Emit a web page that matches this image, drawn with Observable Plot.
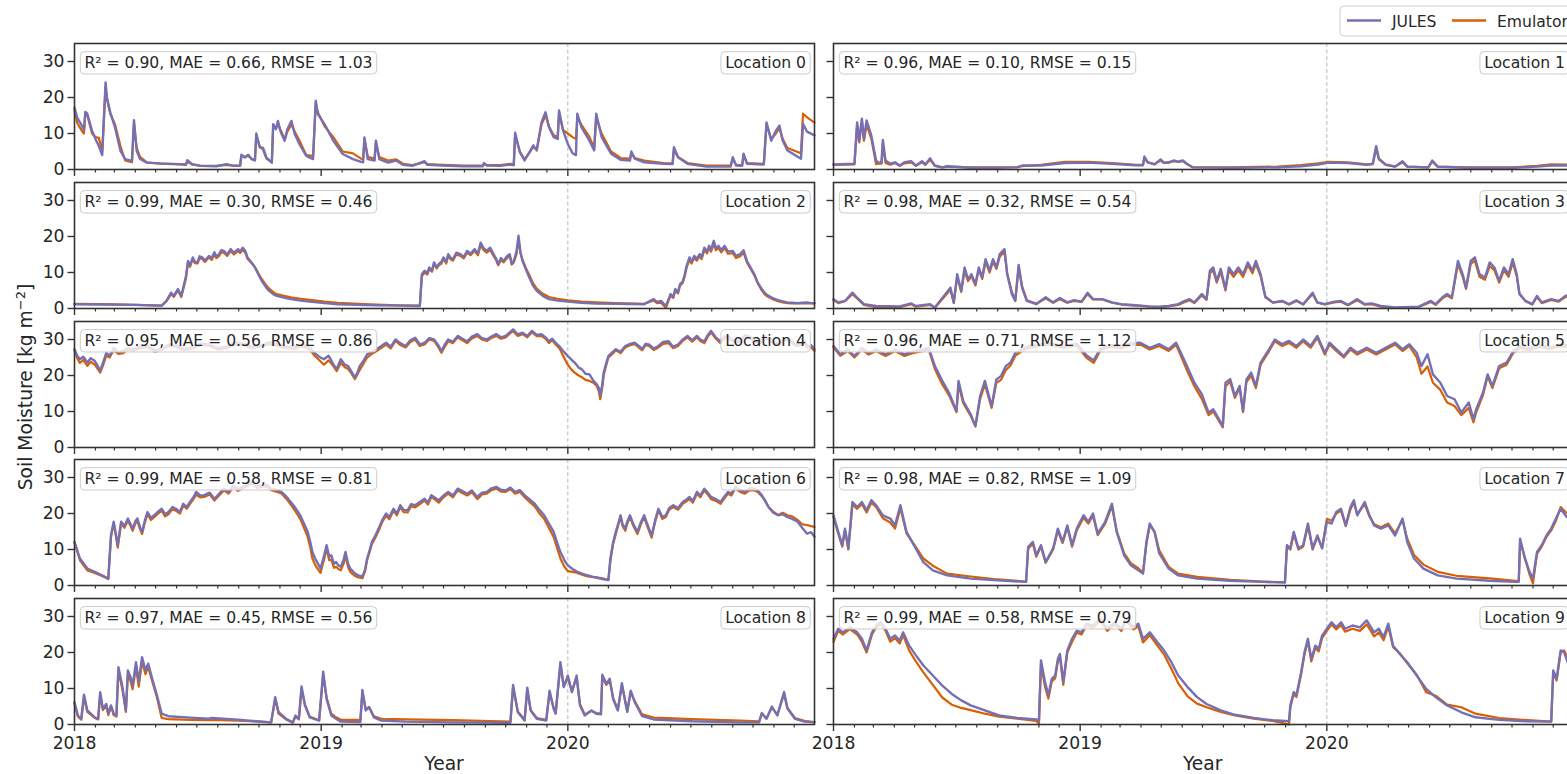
<!DOCTYPE html>
<html><head><meta charset="utf-8">
<script src="https://cdn.jsdelivr.net/npm/d3@7"></script>
<script src="https://cdn.jsdelivr.net/npm/@observablehq/plot@0.6"></script>
<style>
html,body{margin:0;padding:0;background:#fff;overflow:hidden;}
#wrap{position:relative;width:1567px;height:774px;overflow:hidden;font-family:"DejaVu Sans";background:#fff;}
.panel{position:absolute;}
</style></head><body><div id="wrap"></div>
<script>
// ---------- data (days since 2018-01-01) ----------
const locationNames = ["Location 0","Location 1","Location 2","Location 3","Location 4","Location 5","Location 6","Location 7","Location 8","Location 9"];
const r2   = [0.90,0.96,0.99,0.98,0.95,0.96,0.99,0.98,0.97,0.99];
const mae  = [0.66,0.10,0.30,0.32,0.56,0.71,0.58,0.82,0.45,0.58];
const rmse = [1.03,0.15,0.46,0.54,0.86,1.12,0.81,1.09,0.56,0.79];
const seriesNames = ["JULES","Emulator"];
const seriesColors = ["#7570b3","#d95f02"];
const yTicks = [0,10,20,30];
const years = [2018,2019,2020];

const day0 = [0,4,10,14,16,19,26,31,36,41, 46,48,53,60,68,75,85,88,92,97, 107,127,156,165,167,174,186,210,225,235, 245,247,252,257,262,267,269,274,279,284, 292,294,298,301,305,311,315,321,326,333, 343,353,357,360,370,383,397,412,424,427, 429,434,444,446,451,464,476,486,500,518, 522,545,575,604,606,610,630,645,650,652, 659,666,679,684,691,697,702,709,715,717, 723,730,737,742,744,750,762,769,772,780, 794,808,822,824,829,843,872,885,887,893, 907,935,971,974,979,988,990,995,1020,1024, 1031,1038,1043,1048,1055,1075,1078,1084,1095];
const jules0 = [17.2,14.4,12.5,11.0,16.0,15.5,10.7,8.5,6.5,4.0, 24.2,20.0,15.8,11.7,5.2,2.9,2.4,13.7,5.2,2.9, 1.9,1.7,1.5,1.4,2.6,1.5,1.0,0.9,1.5,1.0, 1.0,4.1,3.3,4.1,2.9,2.5,10.0,6.1,6.0,3.3, 1.9,12.6,11.2,13.5,10.5,8.0,11.2,13.5,9.8,7.0, 3.8,2.9,19.1,15.4,12.6,8.0,4.3,2.9,2.1,2.0, 8.9,2.9,2.5,8.0,2.9,1.9,2.5,1.3,1.0,2.3, 1.3,1.1,0.9,0.9,1.8,1.1,1.0,1.4,1.2,10.2, 4.8,2.5,6.7,5.3,13.1,15.9,11.8,9.0,8.5,16.4, 10.8,7.1,4.5,4.0,15.5,11.8,8.0,5.3,15.5,9.0, 4.4,2.7,2.5,5.0,3.0,2.0,1.6,1.5,6.2,3.4, 1.6,0.8,0.8,3.4,1.1,1.0,4.4,1.6,1.4,13.1, 8.0,10.8,12.2,8.0,5.3,3.0,12.7,10.5,9.5];
const emu0 = [16.5,13.0,11.0,10.0,15.5,15.0,10.0,9.0,8.8,5.0, 23.0,19.5,15.5,12.5,6.5,2.5,2.0,12.5,6.0,3.5, 2.0,1.6,1.4,1.3,2.2,1.4,1.1,1.0,1.3,1.1, 1.1,3.8,3.5,3.8,3.0,2.6,9.5,6.5,5.5,3.0, 2.0,12.0,11.5,12.5,11.0,8.5,10.5,12.5,10.5,8.0, 4.0,3.8,18.5,16.0,12.0,9.0,5.0,4.5,3.0,2.8, 8.5,3.5,3.0,7.5,3.5,2.5,2.8,1.6,1.2,2.0, 1.5,1.3,1.1,1.1,1.6,1.3,1.2,1.6,1.4,9.5, 5.0,2.8,6.2,5.5,12.5,15.0,12.0,9.5,9.0,15.5, 11.0,10.0,9.0,8.5,14.5,12.5,9.0,6.0,14.5,10.0, 5.0,3.2,3.0,4.5,3.2,2.5,1.8,1.7,5.5,3.5, 1.8,1.1,1.1,3.0,1.3,1.2,4.0,1.8,1.6,12.5, 8.5,10.0,11.5,8.5,6.0,4.5,15.5,14.5,13.0];

const day1 = [0,31,35,38,42,45,49,56,63,66, 71,73,77,84,91,98,105,115,122,131, 136,143,150,161,168,203,238,272,279,307, 342,377,412,447,458,460,465,475,484,489, 496,503,510,517,523,531,587,657,692,717, 733,761,789,798,803,807,817,831,842,849, 880,886,894,936,1006,1041,1062,1095];
const jules1 = [1.4,1.6,13.1,8.0,14.1,8.5,13.6,9.4,2.5,2.0, 1.8,8.2,2.5,1.6,2.0,1.1,2.0,2.3,1.1,2.3, 1.4,3.1,1.1,0.6,0.9,0.5,0.5,0.6,1.1,1.1, 1.8,1.9,1.6,1.2,1.2,3.6,2.0,1.4,2.8,1.9, 2.0,2.5,2.2,2.5,1.6,0.6,0.5,0.6,0.9,1.4, 1.9,1.8,1.3,1.6,6.5,3.0,1.4,0.8,2.3,0.8, 0.6,2.5,0.8,0.5,0.5,0.8,1.1,1.1];
const emu1 = [1.3,1.4,12.5,7.5,13.5,8.0,12.5,8.5,1.5,1.6, 1.6,7.0,1.8,1.3,1.8,1.0,1.7,2.0,1.0,2.0, 1.3,2.7,1.0,0.6,0.8,0.6,0.6,0.7,0.9,1.3, 2.1,2.1,1.8,1.3,1.3,3.2,2.0,1.5,2.5,1.8, 1.9,2.3,2.1,2.3,1.5,0.7,0.6,0.8,1.2,1.7, 2.1,2.0,1.4,1.5,5.8,2.8,1.3,0.8,2.0,0.8, 0.6,2.2,0.8,0.6,0.6,1.0,1.4,1.3];

const day2 = [0,40,90,129,136,143,147,153,158,165, 168,171,175,178,182,185,189,193,199,203, 207,210,214,217,221,226,231,236,242,245, 249,253,256,262,267,272,277,283,288,294, 299,310,320,335,348,370,390,420,447,480, 511,514,518,522,525,529,532,536,539,543, 546,550,553,557,560,565,571,576,581,586, 592,597,601,605,610,615,620,624,627,631, 635,640,644,647,650,654,657,660,663,668, 673,678,684,693,702,715,730,750,772,800, 843,857,862,868,875,882,886,889,893,896, 900,903,906,910,913,917,921,925,928,932, 936,939,942,946,949,953,957,962,967,974, 979,985,990,995,1000,1006,1011,1017,1022,1027, 1034,1041,1048,1055,1062,1070,1077,1084,1090,1095];
const jules2 = [1.2,1.1,1.0,0.8,2.1,4.4,3.5,5.4,3.5,9.0, 13.2,12.0,14.2,13.0,12.8,14.5,14.2,13.3,14.6,14.0, 15.6,14.4,15.1,16.2,16.0,15.0,16.5,15.5,16.5,15.8, 16.9,15.9,14.2,12.8,11.4,9.5,7.7,6.0,4.9,4.0, 3.5,3.0,2.6,2.2,1.9,1.5,1.2,1.0,0.9,0.8, 0.7,9.5,10.5,9.8,11.4,10.6,12.8,11.5,12.3,13.0, 14.2,12.9,15.1,14.0,13.7,15.5,15.1,14.3,16.0,15.2, 16.5,15.3,18.3,16.8,16.0,16.9,15.1,13.8,12.3,14.0, 13.2,14.5,15.1,12.5,13.2,15.8,20.2,15.5,13.2,10.8, 8.6,6.5,4.9,3.5,2.6,2.2,1.9,1.6,1.4,1.3, 1.2,2.6,1.8,2.1,0.7,4.0,3.2,5.4,4.5,6.8, 7.5,9.5,12.0,14.2,13.0,14.6,13.8,15.1,14.2,16.9, 15.8,17.4,16.4,18.8,16.8,17.4,16.2,17.4,15.8,16.0, 14.6,15.1,16.2,13.2,11.5,9.5,7.2,5.4,4.2,3.5, 2.8,2.3,2.0,1.7,1.6,1.5,1.6,1.7,1.5,1.5];
const emu2 = [1.3,1.2,1.0,0.8,2.0,4.0,3.2,5.0,3.2,8.5, 12.8,11.6,13.8,12.6,12.5,14.0,13.8,12.9,14.2,13.5, 15.0,14.0,14.6,15.6,15.5,14.6,16.0,15.0,16.0,15.4, 16.3,15.4,13.8,12.6,11.5,9.8,8.2,6.6,5.5,4.6, 4.0,3.5,3.1,2.7,2.4,1.9,1.6,1.3,1.1,0.9, 0.8,9.0,10.0,9.4,11.0,10.2,12.3,11.1,12.0,12.5, 13.8,12.5,14.6,13.6,13.3,15.0,14.6,13.9,15.5,14.8, 16.0,14.8,17.6,16.3,15.5,16.3,14.6,13.4,12.0,13.5, 12.8,14.0,14.6,12.2,12.8,15.0,19.0,15.3,13.5,11.2, 9.3,7.2,5.5,4.1,3.2,2.7,2.3,1.9,1.7,1.5, 1.3,2.2,1.5,1.6,0.2,3.6,2.9,5.0,4.2,6.4, 7.1,9.0,11.5,13.6,12.5,14.0,13.3,14.6,13.7,16.3, 15.3,16.8,15.8,18.0,16.2,16.8,15.6,16.8,15.2,15.4, 14.0,14.5,15.5,12.8,11.2,9.2,7.0,5.0,3.8,3.2, 2.5,2.0,1.7,1.5,1.4,1.4,1.4,1.5,1.4,1.4];

const day3 = [0,7,17,28,35,45,63,98,115,122,143,150,173,178,183,189,194,199,204,210,215,220,225,231,236,241,246,253,257,264,269,274,279,286,300,314,325,335,346,356,367,376,384,398,412,426,447,468,482,496,510,520,527,534,545,552,557,562,567,573,580,585,592,599,606,613,620,625,632,639,650,664,674,685,695,709,716,727,741,751,761,775,786,796,810,831,866,884,891,901,908,915,924,931,936,943,949,956,964,971,978,985,992,999,1005,1011,1015,1024,1034,1041,1048,1062,1073,1083,1095];
const jules3 = [2.6,1.7,2.1,4.4,3.0,1.2,0.7,0.6,1.4,0.7,1.2,0.3,5.8,1.7,9.5,4.9,11.4,8.1,9.5,6.8,11.4,8.6,13.7,10.5,13.7,11.4,15.1,16.5,9.5,4.0,2.1,12.1,5.8,2.1,1.2,3.1,1.7,2.9,1.7,2.3,1.9,4.4,2.6,2.6,1.7,1.2,0.9,0.6,0.5,0.7,1.2,2.1,2.6,1.7,4.0,2.6,10.5,11.4,7.7,11.0,5.4,11.4,9.5,11.4,9.5,12.8,10.5,13.2,9.5,3.1,1.7,2.1,1.2,2.3,1.2,4.4,1.7,1.2,1.9,2.1,1.0,2.6,1.2,1.4,0.7,0.3,0.5,2.1,1.2,3.1,4.0,3.1,13.2,9.5,5.8,13.2,14.2,9.5,8.6,12.8,11.4,7.7,11.4,9.5,13.7,9.5,4.0,2.1,1.2,3.5,1.7,2.6,2.1,3.5,4.0];
const emu3 = [2.4,1.5,2.0,4.0,2.8,1.0,0.4,0.4,1.2,0.5,1.0,0.2,5.2,1.5,8.8,4.6,10.6,7.6,9.0,6.4,10.8,8.2,13.0,10.0,13.0,11.0,14.4,15.8,9.8,4.5,2.3,11.5,6.2,2.3,1.4,2.8,1.6,2.6,1.6,2.1,1.8,4.0,2.5,2.5,1.6,1.1,0.8,0.5,0.4,0.6,1.0,1.8,2.3,1.5,3.6,2.4,9.8,10.6,7.2,10.3,5.0,10.6,8.8,10.6,8.8,12.0,9.8,12.4,9.0,3.4,1.6,2.0,1.1,2.1,1.1,4.0,1.6,1.1,1.7,1.9,0.9,2.3,1.1,1.2,0.5,0.2,0.4,1.8,1.0,2.8,3.6,2.8,12.4,8.8,5.4,12.4,13.3,8.8,8.0,11.8,10.6,7.2,10.6,8.8,12.8,9.0,4.2,2.0,1.1,3.2,1.5,2.4,1.9,3.2,3.7];

const day4 = [0,4,8,13,19,24,30,34,38,43, 47,52,58,65,72,79,86,97,108,119, 130,140,150,162,175,187,200,212,225,237, 250,262,275,287,300,312,325,335,345,350, 355,362,369,376,383,388,394,400,405,410, 415,419,422,428,433,440,447,454,461,468, 475,482,490,497,504,511,518,525,532,538, 543,548,553,560,567,574,581,588,596,603, 610,617,624,631,638,644,649,656,663,670, 677,684,691,697,702,707,712,718,723,727, 730,735,740,746,751,756,762,768,773,776, 778,781,783,787,790,796,801,808,815,822, 829,835,840,845,850,857,864,871,879,886, 893,900,907,914,921,926,932,937,942,949, 956,963,970,977,985,992,1000,1007,1015,1022, 1030,1037,1045,1052,1060,1067,1075,1080,1085,1090, 1095];
const jules4 = [27.3,25.5,24.5,25.2,23.6,24.8,24.0,22.8,21.3,24.0, 26.3,25.5,27.7,26.4,26.8,27.6,27.3,28.0,28.2,27.0, 27.5,28.6,28.5,27.4,27.8,28.9,28.6,27.6,28.0,29.1, 29.0,27.9,28.3,29.2,28.8,28.0,27.9,28.6,28.2,27.5, 26.3,25.2,24.5,25.5,23.1,21.8,24.5,23.0,22.6,21.0, 19.4,21.0,22.6,24.2,25.9,26.5,27.3,28.2,29.1,28.0, 30.0,29.0,28.2,29.8,30.5,28.6,29.1,30.4,30.0,28.5, 26.8,28.6,30.0,29.4,31.0,30.2,29.5,30.8,31.5,30.4, 30.0,30.8,31.5,30.6,31.0,32.0,32.8,31.4,31.9,31.0, 32.4,31.3,31.5,30.6,29.5,30.2,29.1,28.0,26.8,26.0, 25.4,24.5,23.6,22.2,21.7,20.5,20.3,18.5,17.5,16.5, 14.3,17.5,20.8,23.5,25.4,26.5,27.3,26.6,28.2,28.8, 29.1,28.2,27.3,28.8,28.6,27.5,28.2,29.3,29.5,28.0, 28.6,30.0,31.0,29.8,31.0,30.0,29.5,31.2,32.4,30.6, 29.5,31.0,30.5,29.6,29.8,31.2,30.8,29.6,29.5,30.6, 30.2,29.0,29.0,30.4,29.8,28.6,28.8,29.6,28.0,28.4, 27.3];
const emu4 = [27.0,24.8,23.5,24.3,22.7,23.8,23.0,21.9,20.8,23.2, 25.5,25.0,27.0,26.0,26.2,27.2,26.8,27.6,27.8,26.6, 27.2,28.2,28.0,27.0,27.5,28.5,28.2,27.2,27.6,28.6, 28.5,27.5,28.0,28.7,28.3,27.6,27.4,28.1,27.6,26.8, 25.5,24.3,23.0,24.2,22.6,21.2,23.5,22.3,21.8,20.5, 19.0,20.4,21.5,23.4,25.0,26.0,26.8,27.7,28.6,27.5, 29.6,28.5,27.8,29.3,30.0,28.2,28.6,30.0,29.6,28.0, 26.3,28.0,29.5,29.0,30.6,29.8,29.0,30.3,31.0,30.0, 29.6,30.4,31.0,30.2,30.6,31.6,32.3,31.0,31.5,30.6, 32.0,30.9,31.0,30.2,29.0,29.8,28.6,27.4,25.5,24.0, 23.0,21.7,20.8,20.0,19.5,18.8,18.5,18.0,17.0,15.5, 13.4,16.8,20.0,23.0,25.0,26.0,27.0,26.2,27.8,28.4, 28.7,27.8,27.0,28.4,28.2,27.1,27.8,28.8,29.0,27.6, 28.2,29.6,30.6,29.4,30.6,29.6,29.0,30.7,32.0,30.2, 29.0,30.5,30.0,29.2,29.4,30.8,30.3,29.2,29.0,30.2, 29.7,28.6,28.6,30.0,29.4,28.2,28.4,29.2,27.6,27.8, 26.8];

const day5 = [0,10,21,31,42,52,63,77,91,105,119,133,141,150,161,171,182,185,192,203,210,217,224,234,241,248,255,262,269,279,290,305,320,340,360,375,385,395,410,425,440,454,468,482,496,507,514,524,534,545,555,562,569,576,580,587,594,601,606,611,618,625,632,643,653,664,674,685,695,706,716,727,734,744,755,765,775,789,803,817,831,842,852,863,870,879,887,898,908,919,929,940,947,951,961,968,975,985,996,1006,1016,1030,1045,1060,1075,1095];
const jules5 = [28.2,25.9,27.3,25.4,27.7,26.3,27.3,25.9,27.3,25.9,26.8,27.3,27.7,22.6,18.5,15.2,10.1,18.5,12.9,9.2,6.0,14.3,18.5,11.5,18.9,19.9,22.6,23.6,26.3,27.3,28.2,28.6,29.0,28.2,28.8,25.5,24.2,27.5,28.5,28.0,29.0,29.1,27.7,28.7,27.3,29.1,26.3,22.2,18.0,14.8,9.7,10.6,8.3,6.0,18.0,19.0,14.3,17.1,10.1,18.9,20.8,17.1,23.6,26.8,30.0,28.7,29.6,28.2,30.0,28.2,31.0,26.3,29.1,27.3,25.4,27.7,26.3,27.7,26.3,27.7,29.1,27.3,28.7,26.3,22.6,25.9,20.3,18.0,14.3,13.4,9.7,12.5,7.8,10.6,15.2,20.3,17.1,22.6,23.6,26.8,28.2,27.5,28.5,27.8,28.6,28.2];
const emu5 = [27.8,25.5,26.8,25.0,27.2,25.8,26.8,25.4,26.8,25.4,26.3,26.8,27.2,21.8,17.5,14.5,9.8,17.5,12.3,8.8,5.8,13.5,17.5,11.0,18.0,18.8,21.5,22.8,25.5,26.8,27.7,28.2,28.5,27.7,28.3,24.8,23.5,27.0,28.0,27.5,28.5,28.6,27.2,28.2,26.8,28.5,25.5,21.0,17.0,13.5,9.0,10.0,7.8,5.6,17.0,18.3,13.8,16.5,9.8,18.2,20.0,16.5,23.0,26.3,29.5,28.2,29.1,27.7,29.5,27.7,30.5,25.8,28.6,26.8,25.0,27.2,25.8,27.2,25.8,27.2,28.6,26.8,28.2,25.0,20.5,22.5,18.0,16.0,12.5,11.5,9.0,11.0,7.0,9.8,14.5,19.8,16.5,22.0,23.0,26.3,27.7,27.0,28.0,27.3,28.1,27.7];

const day6 = [0,8,19,30,40,50,54,58,61,64, 69,74,79,83,86,90,93,97,100,104, 108,113,118,124,129,134,139,145,150,156, 161,166,171,176,180,186,192,200,207,214, 221,228,235,242,249,256,263,270,277,284, 291,298,306,313,320,327,334,340,345,349, 352,356,359,364,369,373,377,380,384,387, 391,394,398,401,405,408,414,419,426,430, 433,437,440,445,450,455,461,466,472,477, 482,487,493,498,504,511,518,523,528,534, 539,546,553,560,567,574,581,588,596,603, 610,617,624,631,638,645,652,659,666,673, 681,688,695,702,709,714,719,725,730,737, 744,751,758,765,773,781,790,793,797,801, 805,808,811,815,818,822,827,833,838,843, 848,854,859,864,870,875,880,886,893,900, 905,910,915,921,926,932,937,942,949,956, 962,967,972,978,985,992,999,1006,1011,1017, 1022,1027,1034,1041,1048,1055,1062,1070,1077,1084, 1090,1095];
const jules6 = [12.1,7.5,4.7,3.8,2.9,1.9,14.0,17.7,14.5,11.2, 17.7,16.5,18.6,17.0,15.8,17.8,18.6,16.2,14.9,18.0, 20.4,18.8,19.5,20.6,21.3,19.8,20.4,21.8,21.3,20.5, 22.7,21.8,23.2,24.5,26.0,25.0,25.1,25.8,24.1,25.5, 26.9,26.0,27.8,26.8,27.4,28.2,28.8,27.6,27.8,28.0, 26.9,26.6,26.0,24.8,23.2,21.5,19.5,17.0,14.9,12.0, 9.3,7.5,6.5,4.7,8.0,11.2,8.0,8.4,6.0,6.5, 5.5,5.2,7.0,9.3,6.0,4.7,3.5,2.9,2.4,4.5, 7.5,10.0,12.1,13.8,15.8,18.0,20.0,19.0,21.3,20.0, 22.3,21.0,20.9,22.6,22.3,23.2,24.1,23.0,25.1,24.3, 23.7,25.0,26.0,25.0,26.9,26.2,25.5,26.4,24.6,25.8, 26.0,27.0,27.4,26.6,26.4,27.2,26.0,26.5,25.1,24.0, 22.7,21.0,19.5,17.2,14.9,12.0,9.3,7.0,5.6,4.6, 3.8,3.3,2.9,2.5,2.1,1.8,1.5,7.5,12.0,14.9, 17.5,19.5,17.0,15.8,17.8,19.5,17.0,14.9,17.5,19.5, 16.8,13.9,18.0,21.3,19.0,19.5,21.5,22.3,21.5,23.2, 23.8,24.6,23.5,26.0,25.0,26.9,25.8,24.6,24.0,23.2, 24.8,26.0,25.5,27.4,26.5,26.0,27.0,26.9,26.4,25.1, 23.5,21.8,20.2,19.5,19.8,19.0,18.5,17.7,16.0,14.4, 14.8,13.5];
const emu6 = [12.0,7.0,4.2,3.5,2.7,1.8,13.5,17.2,14.0,10.5, 17.2,16.0,18.0,16.5,15.2,17.2,18.0,15.6,14.3,17.4, 19.8,18.2,19.0,20.0,20.8,19.2,19.8,21.2,20.8,20.0, 22.2,21.3,22.7,24.0,25.2,24.5,24.6,25.3,23.6,25.0, 26.4,25.5,27.4,26.3,27.0,27.7,28.3,27.1,27.4,27.5, 26.5,26.1,25.6,24.2,22.5,20.6,18.5,15.8,13.5,10.5, 7.5,5.8,4.8,3.5,7.0,10.2,7.0,7.2,4.9,5.2, 4.5,4.2,6.0,8.2,5.0,3.8,2.8,2.3,2.0,4.0, 7.0,9.5,11.5,13.2,15.2,17.5,19.4,18.4,20.8,19.5, 21.8,20.4,20.3,22.0,21.7,22.6,23.6,22.5,24.6,23.8, 23.0,24.5,25.5,24.5,26.4,25.7,25.0,25.9,24.0,25.3, 25.5,26.5,26.9,26.1,26.0,26.8,25.5,26.0,24.5,23.3, 22.0,20.0,18.5,16.0,13.5,10.5,7.5,5.2,4.0,3.8, 3.5,3.0,2.6,2.4,2.3,2.0,1.6,7.0,11.5,14.3, 17.0,19.0,16.5,15.2,17.2,19.0,16.5,14.3,17.0,19.0, 16.2,13.3,17.5,20.8,18.5,19.0,21.0,21.8,21.0,22.7, 23.3,24.0,23.0,25.5,24.5,26.4,25.3,24.0,23.5,22.7, 24.3,25.5,25.0,27.0,26.0,25.5,26.5,26.4,26.0,24.8, 23.5,21.8,20.5,19.6,20.2,19.5,19.2,18.2,17.0,16.8, 16.5,16.3];

const day7 = [0,7,13,17,22,28,35,42,49,56,63,73,84,91,99,108,119,133,147,168,203,238,285,288,295,300,307,314,325,332,339,346,353,360,370,377,384,391,402,412,419,430,440,451,458,463,468,475,482,496,510,538,587,636,668,671,676,681,688,695,702,709,716,723,730,737,744,751,758,765,770,775,786,793,800,810,821,831,842,849,859,873,894,922,971,1009,1014,1016,1023,1030,1035,1041,1048,1055,1062,1069,1076,1083,1095];
const jules7 = [19.5,14.9,11.2,15.8,10.3,23.2,21.8,23.2,20.9,23.7,22.3,19.5,18.6,16.7,22.3,14.9,11.2,6.5,4.2,2.8,1.9,1.5,1.0,10.7,12.1,8.4,11.2,6.5,10.3,15.8,12.1,16.7,11.2,15.8,19.5,17.7,20.0,14.4,17.7,22.7,14.9,8.4,5.6,4.2,3.3,12.1,17.2,14.9,8.9,4.7,2.8,1.9,1.3,1.0,0.8,11.2,10.3,14.9,10.3,11.2,17.2,10.3,13.9,10.3,17.7,17.2,20.4,21.3,16.7,21.8,23.7,19.5,23.2,19.5,16.7,15.8,16.7,13.9,18.6,12.1,7.5,4.7,2.8,1.9,1.3,1.0,1.0,13.0,7.5,3.8,1.9,9.3,11.2,13.9,15.8,18.6,21.3,19.5,17.2];
const emu7 = [19.0,14.4,10.8,15.3,10.0,22.5,21.3,22.6,20.3,23.0,21.8,18.7,17.5,15.8,21.5,14.5,11.5,7.5,5.5,3.3,2.5,1.8,1.1,10.2,11.6,8.0,10.8,6.3,10.0,15.2,11.8,16.2,10.8,15.3,18.8,17.2,19.4,14.0,17.2,22.0,15.2,9.0,6.2,4.8,3.6,11.5,16.7,15.0,9.8,5.2,3.3,2.4,1.6,1.1,0.9,10.7,10.0,14.3,10.0,10.8,16.6,10.0,13.5,10.5,18.5,18.0,20.0,20.8,16.5,21.2,23.0,19.8,22.6,19.2,17.0,16.2,17.2,14.5,18.2,13.0,8.5,5.8,3.8,2.7,2.0,1.3,1.2,12.4,7.8,3.0,0.6,8.8,10.8,13.5,15.3,18.0,21.8,20.5,18.5];

const day8 = [0,5,10,14,19,30,35,38,42,47, 50,54,58,62,65,71,76,79,83,86, 91,95,100,105,109,115,122,129,139,171, 199,203,242,291,297,302,313,323,327,332, 336,341,348,362,368,373,380,387,394,423, 426,431,436,443,454,490,560,645,649,656, 666,670,675,684,698,703,709,712,719,724, 730,736,743,748,755,765,772,779,781,787, 792,797,804,810,815,818,823,829,840,857, 914,985,1013,1017,1024,1032,1040,1050,1055,1066, 1080,1095];
const jules8 = [6.2,2.5,1.6,8.3,3.9,2.0,1.6,9.0,4.4,5.7, 3.0,5.3,3.0,2.5,15.9,10.4,3.9,15.0,13.1,10.8, 17.3,11.8,18.7,15.0,16.9,12.7,8.1,3.0,2.3,1.9, 1.6,1.8,1.3,0.6,7.6,3.4,1.6,0.6,2.5,1.6, 10.6,5.3,2.0,1.1,14.7,7.1,2.5,1.6,0.8,0.7, 9.6,3.9,4.8,2.0,1.1,0.8,0.6,0.5,11.0,3.4, 1.1,10.2,3.9,1.6,1.1,9.4,4.4,3.0,17.3,10.4, 13.6,9.0,13.6,5.3,2.5,3.9,3.0,2.8,13.8,11.3, 12.7,7.1,3.9,11.5,6.2,3.5,9.4,6.2,2.3,1.4, 0.9,0.6,0.6,3.2,1.6,5.0,2.5,9.0,4.4,1.6, 0.8,0.6];
const emu8 = [5.8,2.2,1.3,7.5,3.5,1.8,1.4,8.3,4.0,5.3, 2.6,5.0,2.6,2.2,15.0,9.6,3.5,14.0,12.0,9.8, 16.0,10.5,17.5,14.0,16.0,12.0,7.5,1.8,1.5,1.3, 1.2,1.3,1.1,0.6,7.0,3.0,1.4,0.5,2.2,1.4, 9.8,5.6,2.2,1.2,13.8,7.5,3.0,2.0,1.3,1.3, 9.0,4.2,4.8,2.3,1.6,1.4,1.2,0.8,10.3,3.6, 1.3,9.6,4.0,1.8,1.3,8.8,4.6,3.2,16.5,10.6, 13.0,9.2,13.0,5.6,2.8,3.8,3.2,3.0,13.0,11.0, 12.2,7.4,4.2,10.9,6.5,3.8,9.0,6.5,2.8,1.9, 1.5,1.1,0.9,3.0,1.7,4.7,2.7,8.5,4.6,1.8, 1.0,0.7];

const day9 = [0,7,14,24,35,42,49,57,63,70,77,84,91,98,103,112,122,133,147,161,175,189,203,224,245,272,300,304,307,313,318,323,328,332,335,340,346,353,360,367,374,384,395,405,416,426,433,444,451,458,468,479,489,500,510,524,538,552,573,594,622,650,674,676,681,685,692,697,702,707,713,718,723,730,737,744,751,757,768,779,789,800,807,814,821,828,838,849,863,877,891,908,929,950,985,1027,1062,1065,1070,1076,1081,1088,1095];
const jules9 = [23.8,26.6,25.6,27.0,25.6,23.8,20.6,25.6,27.5,28.4,26.6,23.8,24.7,23.3,25.6,21.9,19.2,16.4,13.6,10.8,8.5,6.7,5.3,3.9,2.5,1.8,1.4,1.1,17.8,11.8,8.1,12.7,13.6,18.2,19.6,11.8,20.6,23.8,26.1,25.6,28.0,27.5,29.4,26.6,28.4,26.6,29.4,27.0,28.0,23.8,25.6,22.9,20.6,17.3,13.6,10.4,7.6,5.7,3.9,2.7,1.8,1.2,0.9,5.3,9.0,8.1,14.5,20.1,23.8,18.2,21.9,21.0,24.7,26.6,28.4,27.0,28.4,26.6,27.5,27.0,28.9,25.6,26.6,24.3,28.0,21.9,19.6,17.3,13.6,9.9,7.6,5.3,3.4,2.0,1.3,0.9,0.8,15.0,12.7,20.6,20.2,16.4,16.0];
const emu9 = [23.0,26.0,25.0,26.5,25.0,23.0,20.0,25.0,27.0,27.8,26.0,23.0,24.0,22.5,24.8,20.5,17.5,14.5,11.0,7.5,5.5,4.6,4.0,3.0,2.2,1.6,1.0,0.2,16.8,10.5,7.2,12.0,12.8,17.5,19.0,11.0,20.0,23.0,25.5,25.0,27.4,27.0,28.8,26.0,27.8,26.0,28.8,26.4,27.3,22.8,24.8,22.0,19.5,15.5,11.5,7.8,5.8,4.8,3.5,2.5,1.6,1.0,0.0,4.8,8.5,7.6,14.0,19.5,23.2,17.5,21.3,20.3,24.0,26.0,27.8,26.4,27.6,25.8,26.6,26.0,27.8,24.5,25.6,23.4,27.2,21.5,19.8,17.0,13.8,9.0,8.0,5.5,4.8,3.0,1.8,1.2,0.8,14.5,12.2,20.0,20.6,18.0,17.0];

// ---------- layout ----------
const days = [day0,day1,day2,day3,day4,day5,day6,day7,day8,day9];
const julesAll = [jules0,jules1,jules2,jules3,jules4,jules5,jules6,jules7,jules8,jules9];
const emuAll = [emu0,emu1,emu2,emu3,emu4,emu5,emu6,emu7,emu8,emu9];

const T0 = Date.UTC(2018,0,1);
const toDate = d => new Date(T0 + d*86400000);
const xDomain = [new Date(Date.UTC(2018,0,1)), new Date(Date.UTC(2020,11,31))];
const yearTicks = years.map(y => new Date(Date.UTC(y,0,1)));
const monthTicks = d3.utcMonth.range(new Date(Date.UTC(2018,1,1)), new Date(Date.UTC(2021,0,1))).filter(d => d.getUTCMonth() !== 0);

const PW = 740, PH = 126;
const colLeft = [74, 832.7];
const rowTop = r => 43 + r*138.75;
const wrap = document.getElementById("wrap");
const TXT = "#262626";

for (let i = 0; i < 10; i++) {
  const col = i % 2, row = Math.floor(i / 2), bottom = row === 4;
  const ml = 60, mr = 6, mt = 6, mb = bottom ? 36 : 12;
  const n = Math.min(days[i].length, julesAll[i].length, emuAll[i].length);
  const rows = days[i].slice(0, n).map((d, k) => ({date: toDate(d), jules: julesAll[i][k], emu: emuAll[i][k]}));
  const stats = `R² = ${r2[i].toFixed(2)}, MAE = ${mae[i].toFixed(2)}, RMSE = ${rmse[i].toFixed(2)}`;
  const plot = Plot.plot({
    width: ml + PW + mr, height: mt + PH + mb,
    marginLeft: ml, marginRight: mr, marginTop: mt, marginBottom: mb,
    style: "background:transparent;overflow:visible;max-width:none;font-family:'DejaVu Sans';color:" + TXT,
    x: {type: "utc", domain: xDomain},
    y: {domain: [0, 35]},
    marks: [
      Plot.ruleX([new Date(Date.UTC(2020,0,1))], {stroke: "#b8b8b8", strokeWidth: 1, strokeDasharray: "4,2.5"}),
      Plot.lineY(rows, {x: "date", y: "emu", stroke: seriesColors[1], strokeWidth: 2.2}),
      Plot.lineY(rows, {x: "date", y: "jules", stroke: seriesColors[0], strokeWidth: 2.4}),
      Plot.frame({stroke: "#333", strokeWidth: 1.6}),
      Plot.axisY({ticks: yTicks, tickSize: 6.5, tickPadding: 3.5, fontSize: 17.2, strokeWidth: 1.4, stroke: "#333",
                  tickFormat: col === 0 ? (d => String(d)) : (() => ""), label: null}),
      Plot.axisX({ticks: monthTicks, tickSize: 3.5, strokeWidth: 1.2, stroke: "#333", tickFormat: () => "", label: null}),
      Plot.axisX({ticks: yearTicks, tickSize: 7, tickPadding: 5.5, fontSize: 17.2, strokeWidth: 1.4, stroke: "#333",
                  tickFormat: bottom ? (d => String(d.getUTCFullYear())) : (() => ""), label: null}),
      Plot.text([stats], {text: d => d, frameAnchor: "top-left", dx: 10, dy: 24.3, lineAnchor: "bottom", textAnchor: "start", fontSize: 15.6, fill: TXT}),
      Plot.text([locationNames[i]], {text: d => d, frameAnchor: "top-right", dx: -8.5, dy: 24.3, lineAnchor: "bottom", textAnchor: "end", fontSize: 15.6, fill: TXT})
    ]
  });
  const div = document.createElement("div");
  div.className = "panel";
  div.style.left = (colLeft[col] - ml) + "px";
  div.style.top = (rowTop(row) - mt) + "px";
  div.appendChild(plot);
  wrap.appendChild(div);
  // rounded, semi-transparent boxes behind the annotation texts
  d3.select(plot).selectAll('g[aria-label="text"] text').each(function () {
    const bb = this.getBBox();
    const r = document.createElementNS("http://www.w3.org/2000/svg", "rect");
    r.setAttribute("x", bb.x - 4.2);
    r.setAttribute("y", bb.y - 2.2);
    r.setAttribute("width", bb.width + 8.4);
    r.setAttribute("height", bb.height + 4.4);
    r.setAttribute("rx", 4);
    r.setAttribute("fill", "white");
    r.setAttribute("fill-opacity", 0.8);
    r.setAttribute("stroke", "#cccccc");
    r.setAttribute("stroke-width", 1);
    const tr = this.getAttribute("transform");
    if (tr) r.setAttribute("transform", tr);
    this.parentNode.insertBefore(r, this);
  });
}

// ---------- overlay: legend, axis titles ----------
const ov = d3.select(wrap).append("svg")
  .attr("width", 1567).attr("height", 774)
  .style("position", "absolute").style("left", "0px").style("top", "0px")
  .style("pointer-events", "none").style("font-family", "DejaVu Sans");

const yl = ov.append("text").attr("transform", "translate(32,387) rotate(-90)")
  .attr("text-anchor", "middle").attr("font-size", 18.7).attr("fill", TXT);
yl.append("tspan").text("Soil Moisture [kg m");
yl.append("tspan").attr("font-size", 13).attr("dy", -7).text("−2");
yl.append("tspan").attr("dy", 7).text("]");

[444, 1202.7].forEach(cx => ov.append("text").attr("x", cx).attr("y", 769.5)
  .attr("text-anchor", "middle").attr("font-size", 18.7).attr("fill", TXT).text("Year"));

const lg = ov.append("g");
lg.append("rect").attr("x", 1340).attr("y", 6).attr("width", 250).attr("height", 30).attr("rx", 4)
  .attr("fill", "white").attr("stroke", "#d0d0d0").attr("stroke-width", 1);
const legendX = [[1347, 1392], [1452, 1497]];
seriesNames.forEach((name, k) => {
  lg.append("line").attr("x1", legendX[k][0]).attr("x2", legendX[k][0] + 34).attr("y1", 20.5).attr("y2", 20.5)
    .attr("stroke", seriesColors[k]).attr("stroke-width", 2.4);
  lg.append("text").attr("x", legendX[k][1]).attr("y", 26.7).attr("font-size", 15.6).attr("fill", TXT).text(name);
});
</script></body></html>
